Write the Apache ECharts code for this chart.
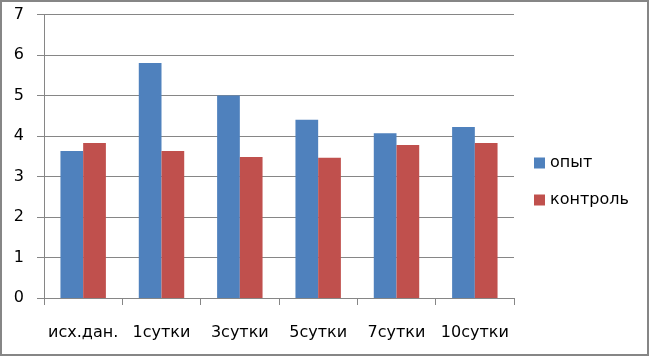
<!DOCTYPE html>
<html>
<head>
<meta charset="utf-8">
<script src="https://cdn.jsdelivr.net/npm/echarts@6/dist/echarts.min.js"></script>
<style>
html,body{margin:0;padding:0;background:#fff;}
#c{width:650px;height:357px;}
</style>
</head>
<body>
<div id="c"></div>
<script>
const categories = ['исх.дан.', '1сутки', '3сутки', '5сутки', '7сутки', '10сутки'];
const seriesNames = ['опыт', 'контроль'];
const opyt = [3.63, 5.80, 5.00, 4.40, 4.07, 4.22];
const kontrol = [3.83, 3.63, 3.48, 3.46, 3.78, 3.83];
const yTicks = [0, 1, 2, 3, 4, 5, 6, 7];

const FONT = 'DejaVu Sans';
const chart = echarts.init(document.getElementById('c'));
chart.setOption({
  animation: false,
  backgroundColor: '#ffffff',
  textStyle: { fontFamily: FONT },
  graphic: [{
    type: 'rect',
    shape: { x: 1, y: 1, width: 647, height: 354 },
    style: { fill: 'none', stroke: '#868686', lineWidth: 2 },
    silent: true
  }],
  grid: { left: 44, right: 136, top: 14.5, bottom: 59, containLabel: false },
  legend: {
    orient: 'vertical',
    left: 529,
    top: 150,
    itemWidth: 11,
    itemHeight: 11,
    itemGap: 21,
    icon: 'rect',
    textStyle: { fontFamily: FONT, fontSize: 16, color: '#000' },
    data: seriesNames
  },
  xAxis: {
    type: 'category',
    data: categories,
    axisLine: { lineStyle: { color: '#868686', width: 1 } },
    axisTick: { show: true, length: 7, lineStyle: { color: '#868686' } },
    axisLabel: { margin: 27, fontFamily: FONT, fontSize: 16, color: '#000', interval: 0 }
  },
  yAxis: {
    type: 'value',
    min: yTicks[0],
    max: yTicks[yTicks.length - 1],
    interval: 1,
    axisLine: { show: true, lineStyle: { color: '#868686', width: 1 } },
    axisTick: { show: true, length: 7, lineStyle: { color: '#868686' } },
    splitLine: { show: true, lineStyle: { color: '#868686', width: 1 } },
    axisLabel: { margin: 20, fontFamily: FONT, fontSize: 16, color: '#000' }
  },
  series: [
    { name: seriesNames[0], type: 'bar', data: opyt, itemStyle: { color: '#4F81BD' }, barGap: '0%', barCategoryGap: '42%' },
    { name: seriesNames[1], type: 'bar', data: kontrol, itemStyle: { color: '#C0504D' }, barGap: '0%', barCategoryGap: '42%' }
  ]
});
</script>
</body>
</html>
